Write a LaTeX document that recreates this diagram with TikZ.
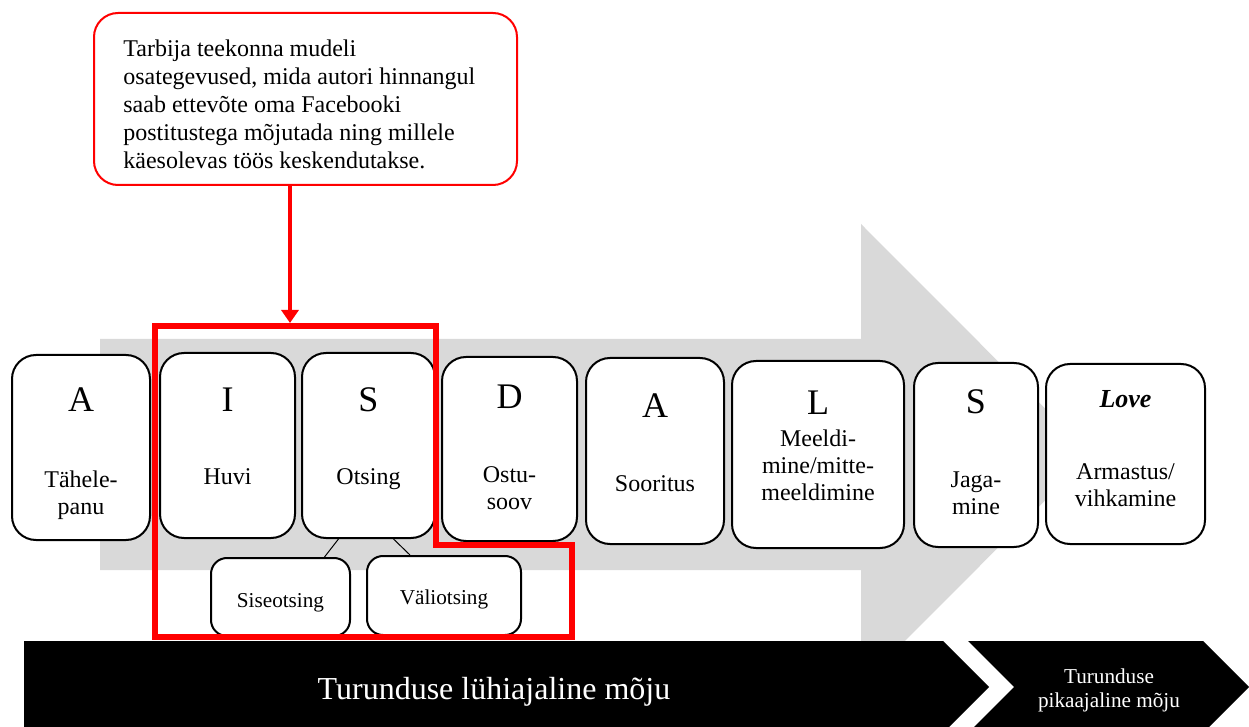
\documentclass[tikz,border=0pt]{standalone}
\usepackage{fontspec}
\setmainfont{Liberation Serif}
\usetikzlibrary{arrows.meta,positioning,calc}
\definecolor{arrowgray}{RGB}{217,217,217}

\begin{document}
\begin{tikzpicture}[x=0.5pt,y=-0.5pt,
stage/.style={draw,line width=1pt,rounded corners=12pt,fill=white,inner sep=0pt},
substage/.style={draw,line width=1pt,rounded corners=8pt,fill=white,inner sep=0pt},
letter/.style={inner sep=0pt,anchor=base,font=\fontsize{18}{20}\selectfont},
stagetext/.style={inner sep=0pt,anchor=north,align=center,font=\fontsize{12}{13.5}\selectfont},
subtext/.style={inner sep=0pt,anchor=base,font=\fontsize{10.6}{12}\selectfont},
note/.style={draw=red,line width=1pt,rounded corners=12pt,fill=white,inner sep=0pt,minimum width=211.5pt,minimum height=86pt},
focus/.style={draw=red,line width=2.75pt},
pointer/.style={draw=red,line width=1.75pt,-{Triangle[length=6.5pt,width=8.5pt]}}]
\useasboundingbox (0,0) rectangle (1249,727);

% big gray arrow and the two chevrons
\fill[arrowgray] (100,339) -- (861,339) -- (861,224) -- (1091,454.5) -- (861,685) -- (861,570) -- (100,570) -- cycle;
\fill (24,641) -- (943,641) -- (989,687) -- (943,733) -- (24,733) -- cycle;
\fill (968,641) -- (1203,641) -- (1249,687) -- (1203,733) -- (968,733) -- (1014,687) -- cycle;
\node[text=white,inner sep=0pt,anchor=base,font=\fontsize{16}{19}\selectfont] (short) at (494,699) {Turunduse lühiajaline mõju};
\node[text=white,inner sep=0pt,anchor=north,align=center,font=\fontsize{10.6}{12}\selectfont] (long) at (1109,668.5) {Turunduse\\pikaajaline mõju};

% stages
\node[stage,minimum width=69pt,minimum height=92.5pt] (b1) at (81,447.5) {};
\node[stage,minimum width=67.5pt,minimum height=92.5pt] (b2) at (227.5,445.5) {};
\node[stage,minimum width=66.5pt,minimum height=92.5pt] (b3) at (368.5,445.5) {};
\node[stage,minimum width=67.5pt,minimum height=92pt] (b4) at (509.5,449) {};
\node[stage,minimum width=69pt,minimum height=93pt] (b5) at (655,451) {};
\node[stage,minimum width=86pt,minimum height=93.5pt] (b6) at (818,454.5) {};
\node[stage,minimum width=62pt,minimum height=92pt] (b7) at (976,455) {};
\node[stage,minimum width=79.5pt,minimum height=90pt] (b8) at (1125.5,454) {};
\node[substage,minimum width=69.5pt,minimum height=39pt] (s1) at (280.5,597) {};
\node[substage,minimum width=77pt,minimum height=39.5pt] (s2) at (444,595.5) {};

\node[letter] (l1) at (81,412) {A};
\node[letter] (l2) at (227.5,412) {I};
\node[letter] (l3) at (368.5,412) {S};
\node[letter] (l4) at (509.5,409) {D};
\node[letter] (l5) at (655,418) {A};
\node[letter] (l6) at (818,415) {L};
\node[letter] (l7) at (976,414) {S};
\node[letter,font=\fontsize{13}{15}\selectfont\bfseries\itshape] (l8) at (1125.5,408) {Love};

\node[stagetext] (t1) at (81,470) {Tähele-\\panu};
\node[stagetext] (t2) at (227.5,468.5) {Huvi};
\node[stagetext] (t3) at (368.5,468.5) {Otsing};
\node[stagetext] (t4) at (509.5,466) {Ostu-\\soov};
\node[stagetext] (t5) at (655,475.5) {Sooritus};
\node[stagetext] (t6) at (818,429) {Meeldi-\\mine/mitte-\\meeldimine};
\node[stagetext] (t7) at (976,471) {Jaga-\\mine};
\node[stagetext] (t8) at (1125.5,463) {Armastus/\\vihkamine};
\node[subtext] (u1) at (280.5,607) {Siseotsing};
\node[subtext] (u2) at (444,604) {Väliotsing};

\path[-,line width=0.5pt]
($(b3.south)+(-30,0)$) edge ($(s1.north)+(44,0)$)
($(b3.south)+(25,0)$) edge ($(s2.north)+(-34,0)$)
;

% callout
\node[note] (note) at (305.5,99) {};
\node[inner sep=0pt,anchor=north west,align=left,font=\fontsize{12}{14}\selectfont] (notetext) at (123,39)
{Tarbija teekonna mudeli\\osategevused, mida autori hinnangul\\saab ettevõte oma Facebooki\\postitustega mõjutada ning millele\\käesolevas töös keskendutakse.};

\draw[focus] (155,326) -- (436,326) -- (436,545) -- (572,545) -- (572,637) -- (155,637) -- cycle;
\coordinate (target) at (290,323);
\draw[pointer] (note.south -| target) -- (target);
\end{tikzpicture}
\end{document}
